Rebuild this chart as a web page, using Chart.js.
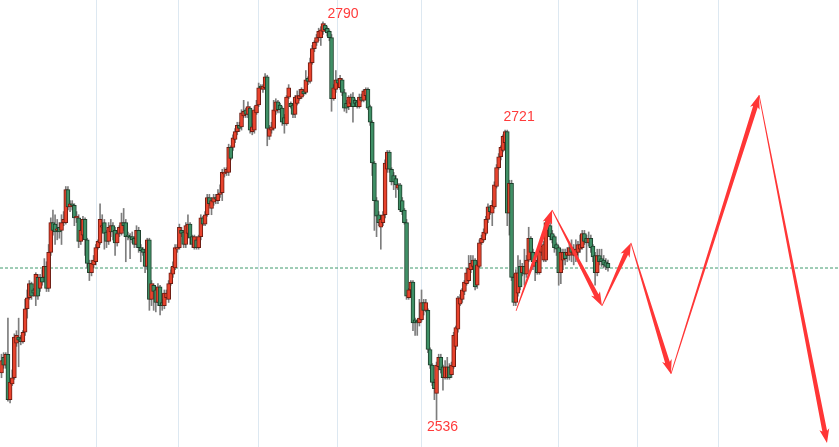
<!DOCTYPE html>
<html>
<head>
<meta charset="utf-8">
<script src="https://cdn.jsdelivr.net/npm/chart.js@4/dist/chart.umd.min.js"></script>
<style>
    body { margin: 0; background: #ffffff; }
    .chart-container { width: 839px; height: 447px; position: relative; }
</style>
</head>
<body>
<div class="chart-container"><canvas id="kline"></canvas></div>
<script>
// daily candles, left to right
var opens = [
    2566,2576,2571,2578,2549,2559,2563,2585,2589,2588,
    2586,2592,2607,2614,2623,2619,2615,2627,2620,2627,
    2627,2634,2620,2643,2662,2661,2657,2659,2657,2662,
    2662,2683,2672,2674,2673,2665,2665,2650,2654,2664,
    2651,2636,2630,2635,2637,2646,2649,2659,2662,2656,
    2650,2656,2660,2657,2649,2655,2655,2662,2662,2654,
    2653,2653,2652,2648,2657,2646,2645,2643,2634,2651,
    2613,2622,2619,2611,2621,2611,2609,2614,2613,2623,
    2629,2633,2645,2646,2657,2656,2648,2655,2661,2653,
    2646,2651,2646,2653,2665,2661,2667,2678,2671,2675,
    2678,2676,2680,2681,2693,2694,2694,2710,2710,2715,
    2720,2724,2723,2730,2734,2731,2735,2720,2721,2732,
    2737,2749,2747,2748,2755,2717,2721,2722,2733,2739,
    2737,2735,2729,2725,2742,2738,2737,2731,2738,2741,
    2742,2746,2745,2754,2752,2764,2773,2777,2780,2780,
    2784,2788,2786,2784,2780,2741,2747,2753,2748,2753,
    2745,2738,2736,2738,2742,2740,2739,2736,2742,2740,
    2743,2747,2736,2726,2700,2676,2667,2659,2662,2667,
    2696,2707,2696,2692,2690,2684,2686,2676,2670,2662,
    2614,2619,2624,2600,2599,2598,2600,2611,2606,2606,
    2581,2571,2560,2553,2570,2576,2570,2563,2563,2570,
    2565,2570,2583,2594,2610,2613,2618,2623,2625,2632,
    2634,2638,2622,2634,2649,2651,2655,2664,2672,2668,
    2672,2685,2697,2704,2708,2713,2720,2668,2687,2627,
    2611,2617,2634,2630,2634,2629,2638,2652,2643,2634,
    2637,2630,2643,2638,2638,2660,2660,2655,2653,2648,
    2646,2630,2638,2643,2641,2641,2646,2641,
    2641,2643,2645,2646,2655,2652,2649,2652,2647,2641,
    2630,2641,2639,2638,2637,2636
]
var highs = [
    2578,2579,2579,2601,2562,2568,2591,2593,2601,2590,
    2593,2613,2619,2625,2624,2620,2630,2629,2629,2632,
    2639,2637,2648,2665,2670,2667,2664,2662,2667,2669,
    2685,2685,2676,2676,2674,2669,2667,2660,2666,2665,
    2652,2638,2638,2641,2648,2651,2674,2667,2664,2657,
    2662,2664,2662,2659,2657,2660,2668,2671,2664,2656,
    2655,2656,2653,2660,2659,2648,2646,2645,2652,2652,
    2625,2623,2621,2623,2622,2613,2619,2619,2625,2632,
    2637,2648,2648,2661,2659,2657,2662,2667,2662,2654,
    2654,2653,2654,2667,2666,2669,2680,2680,2678,2680,
    2680,2683,2686,2696,2697,2697,2712,2711,2718,2722,
    2726,2726,2734,2740,2735,2739,2736,2725,2736,2740,
    2751,2750,2750,2757,2756,2724,2726,2740,2741,2740,
    2738,2736,2731,2743,2750,2739,2738,2743,2746,2747,
    2748,2747,2759,2755,2767,2775,2778,2782,2786,2787,
    2790,2789,2787,2785,2782,2750,2759,2754,2756,2754,
    2747,2740,2743,2744,2745,2741,2740,2744,2744,2747,
    2748,2748,2737,2727,2701,2678,2669,2665,2669,2702,
    2708,2708,2697,2694,2692,2687,2687,2678,2671,2664,
    2620,2625,2625,2601,2600,2613,2619,2613,2613,2607,
    2582,2572,2562,2573,2578,2578,2571,2574,2576,2572,
    2573,2592,2596,2615,2616,2620,2625,2633,2641,2641,
    2641,2639,2637,2651,2654,2658,2666,2674,2673,2676,
    2688,2699,2706,2711,2718,2721,2721,2689,2689,2629,
    2632,2641,2638,2636,2645,2641,2659,2653,2645,2641,
    2639,2648,2650,2650,2664,2662,2662,2657,2654,2649,
    2647,2645,2645,2645,2646,2648,2651,2648,
    2651,2650,2654,2657,2657,2654,2656,2654,2648,2643,
    2645,2645,2645,2641,2639,2638
]
var lows = [
    2563,2569,2569,2548,2547,2558,2562,2583,2570,2584,
    2585,2590,2601,2613,2613,2615,2609,2613,2618,2622,
    2624,2618,2618,2641,2654,2648,2651,2652,2648,2660,
    2661,2670,2669,2670,2660,2662,2646,2648,2652,2641,
    2633,2625,2628,2633,2635,2645,2648,2657,2645,2646,
    2648,2653,2651,2641,2647,2653,2654,2657,2637,2651,
    2639,2649,2646,2646,2643,2637,2641,2630,2632,2606,
    2609,2606,2605,2609,2603,2606,2607,2613,2611,2622,
    2627,2632,2643,2645,2653,2646,2646,2654,2648,2646,
    2645,2645,2645,2651,2660,2660,2666,2673,2667,2673,
    2674,2674,2678,2676,2691,2692,2692,2702,2708,2713,
    2718,2720,2721,2729,2729,2729,2719,2718,2719,2731,
    2736,2747,2745,2747,2711,2715,2719,2721,2731,2732,
    2732,2724,2719,2724,2741,2735,2729,2729,2737,2740,
    2741,2743,2744,2750,2751,2763,2771,2775,2778,2775,
    2782,2784,2781,2778,2733,2740,2745,2749,2747,2743,
    2733,2732,2734,2737,2726,2737,2735,2735,2739,2739,
    2742,2734,2724,2692,2657,2653,2660,2645,2660,2665,
    2694,2694,2686,2683,2678,2683,2669,2667,2661,2613,
    2613,2618,2593,2590,2590,2596,2599,2603,2605,2579,
    2569,2558,2549,2536,2568,2566,2555,2562,2562,2562,
    2563,2569,2581,2592,2609,2611,2616,2622,2624,2630,
    2632,2619,2620,2633,2648,2650,2654,2662,2667,2660,
    2671,2684,2696,2702,2707,2711,2660,2654,2625,2609,
    2609,2615,2619,2628,2622,2627,2637,2641,2632,2625,
    2629,2629,2641,2637,2637,2655,2651,2649,2643,2641,
    2622,2623,2632,2635,2637,2638,2637,2635,
    2637,2639,2643,2645,2648,2637,2647,2643,2637,2622,
    2628,2635,2634,2633,2632,2631
]
var closes = [
    2574,2571,2578,2549,2560,2563,2589,2590,2587,2586,
    2592,2607,2614,2623,2615,2617,2629,2615,2627,2624,
    2634,2620,2643,2662,2657,2656,2658,2656,2662,2664,
    2683,2672,2674,2673,2665,2666,2650,2657,2664,2651,
    2636,2630,2636,2638,2646,2650,2664,2660,2655,2650,
    2659,2660,2656,2649,2655,2659,2662,2660,2653,2653,
    2652,2651,2648,2657,2646,2644,2643,2634,2651,2613,
    2623,2618,2611,2621,2609,2609,2617,2617,2623,2630,
    2634,2646,2646,2659,2655,2648,2660,2661,2652,2648,
    2653,2646,2653,2665,2661,2667,2678,2674,2676,2678,
    2677,2680,2681,2694,2694,2696,2710,2703,2716,2720,
    2724,2722,2732,2733,2731,2736,2721,2723,2734,2737,
    2748,2748,2749,2755,2722,2722,2723,2734,2739,2734,
    2734,2726,2725,2742,2748,2736,2731,2742,2743,2743,
    2747,2744,2753,2752,2764,2773,2777,2780,2784,2785,
    2789,2785,2783,2780,2741,2748,2753,2751,2754,2745,
    2735,2735,2742,2742,2736,2738,2736,2742,2740,2746,
    2747,2735,2726,2700,2676,2666,2662,2664,2667,2700,
    2707,2696,2688,2688,2686,2686,2670,2669,2662,2615,
    2619,2624,2598,2598,2598,2601,2611,2606,2611,2581,
    2571,2560,2556,2571,2576,2568,2563,2570,2570,2563,
    2571,2590,2595,2614,2614,2619,2624,2630,2633,2636,
    2638,2621,2635,2649,2652,2656,2664,2672,2669,2673,
    2686,2697,2704,2710,2717,2720,2668,2687,2627,2611,
    2630,2630,2621,2634,2629,2638,2652,2643,2637,2638,
    2630,2646,2647,2648,2662,2657,2653,2651,2646,2645,
    2630,2643,2643,2639,2643,2646,2643,2645,
    2645,2648,2648,2655,2650,2649,2652,2646,2640,2630,
    2641,2637,2637,2635,2634,2633
]

// month separators (candle index)
var monthLines = [44.1, 82.4, 119.7, 156.6, 195.8, 259.7, 297.0, 334.8]

// reference level
var refLevel = 2633

// marked extremes
var peakIdx = [150, 235, 203]
var peakVal = [2790, 2721, 2536]

// forecast path drawn with arrows
var pathIdx = [240.1, 256.9, 280.2, 293.7, 312.4, 353.5, 385.2]
var pathVal = [2605.6, 2670.0, 2608.8, 2649.0, 2565.4, 2743.4, 2521.4]

var upColor = "#e8432d"
var upBorder = "#6e1c12"
var downColor = "#3f9066"
var downBorder = "#1d3f2b"
var arrowColor = "#ff3636"

function createBodies() {
    var data = []
    var fill = []
    var edge = []
    for (var i = 0; i < opens.length; i++) {
        data.push({ x: i, y: [opens[i], closes[i]] })
        var up = closes[i] >= opens[i]
        fill.push(up ? upColor : downColor)
        edge.push(up ? upBorder : downBorder)
    }
    return { data: data, fill: fill, edge: edge }
}

function createWicks() {
    var data = []
    for (var i = 0; i < highs.length; i++) {
        data.push({ x: i, y: [lows[i], highs[i]] })
    }
    return data
}

function drawArrow(ctx, ax, ay, bx, by) {
    var dx = bx - ax, dy = by - ay
    var len = Math.sqrt(dx * dx + dy * dy)
    var ux = dx / len, uy = dy / len
    var nx = -uy, ny = ux
    var head = 12, hw = 5, w0 = 0.4, w1 = 2.4
    var cx = bx - ux * head, cy = by - uy * head
    ctx.beginPath()
    ctx.moveTo(ax + nx * w0, ay + ny * w0)
    ctx.lineTo(cx + nx * w1, cy + ny * w1)
    ctx.lineTo(cx - ux * 2 + nx * hw, cy - uy * 2 + ny * hw)
    ctx.lineTo(bx, by)
    ctx.lineTo(cx - ux * 2 - nx * hw, cy - uy * 2 - ny * hw)
    ctx.lineTo(cx - nx * w1, cy - ny * w1)
    ctx.lineTo(ax - nx * w0, ay - ny * w0)
    ctx.closePath()
    ctx.fill()
}

var overlayPlugin = {
    id: "overlay",
    afterDatasetsDraw: function(chart) {
        var ctx = chart.ctx
        var xs = chart.scales.x
        var ys = chart.scales.y
        ctx.save()
        ctx.fillStyle = arrowColor
        for (var i = 0; i < pathIdx.length - 1; i++) {
            drawArrow(ctx,
                xs.getPixelForValue(pathIdx[i]), ys.getPixelForValue(pathVal[i]),
                xs.getPixelForValue(pathIdx[i + 1]), ys.getPixelForValue(pathVal[i + 1]))
        }
        // labels at the extremes
        var offsets = [[20, -8], [14, -13], [6, 7]]
        ctx.font = '14px "Liberation Sans", Arial, sans-serif'
        ctx.fillStyle = "#ff3b3b"
        ctx.textAlign = "center"
        ctx.textBaseline = "middle"
        for (var k = 0; k < peakIdx.length; k++) {
            var px = xs.getPixelForValue(peakIdx[k]) + offsets[k][0]
            var py = ys.getPixelForValue(peakVal[k]) + offsets[k][1]
            ctx.fillText(String(peakVal[k]), px, py)
        }
        ctx.restore()
    }
}

var bodies = createBodies()
var xMin = -0.7
var xMax = 390.8

new Chart(document.getElementById("kline"), {
    type: "bar",
    data: {
        datasets: [{
            type: "line",
            data: [{ x: xMin, y: refLevel }, { x: xMax, y: refLevel }],
            borderColor: "#3f9a6c",
            borderWidth: 1,
            borderDash: [3, 2],
            pointRadius: 0,
            order: 3
        }, {
            data: createWicks(),
            backgroundColor: "#7d7d7d",
            barThickness: 1,
            grouped: false,
            order: 2
        }, {
            data: bodies.data,
            backgroundColor: bodies.fill,
            borderColor: bodies.edge,
            borderWidth: 1,
            borderSkipped: false,
            barThickness: 4,
            grouped: false,
            order: 1
        }]
    },
    options: {
        responsive: true,
        maintainAspectRatio: false,
        animation: false,
        layout: { padding: 0 },
        plugins: {
            legend: { display: false },
            tooltip: { enabled: false }
        },
        scales: {
            x: {
                type: "linear",
                min: xMin,
                max: xMax,
                offset: false,
                afterBuildTicks: function(scale) {
                    scale.ticks = monthLines.map(function(v) { return { value: v } })
                },
                grid: { color: "#dde8f1", drawTicks: false, offset: false },
                border: { display: false },
                ticks: { display: false }
            },
            y: {
                display: false,
                min: 2518.8,
                max: 2804
            }
        }
    },
    plugins: [overlayPlugin]
})
</script>
</body>
</html>
